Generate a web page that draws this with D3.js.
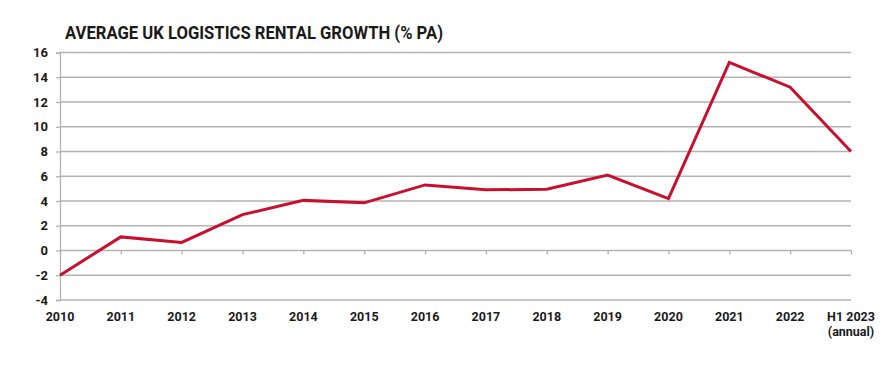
<!DOCTYPE html>
<html>
<head>
<meta charset="utf-8">
<script src="https://cdn.jsdelivr.net/npm/d3@7"></script>
<style>
  body { margin: 0; background: #fff; }
  text { font-family: Roboto, "DejaVu Sans", sans-serif; font-weight: 700; fill: #1a1a1a; }
</style>
</head>
<body>
<div id="chart"></div>
<script>
// chart data
var years = ["2010", "2011", "2012", "2013", "2014", "2015", "2016", "2017",
             "2018", "2019", "2020", "2021", "2022", "H1 2023|(annual)"];
var growth = [-2.0, 1.1, 0.65, 2.9, 4.05, 3.85, 5.3, 4.9, 4.95, 6.1, 4.2, 15.2, 13.2, 8.0];
var yTicks = [-4, -2, 0, 2, 4, 6, 8, 10, 12, 14, 16];

var svgWidth = 881;
var svgHeight = 387;

var margin = { top: 52.5, right: 30, bottom: 87, left: 60 };
var width = svgWidth - margin.left - margin.right;
var height = svgHeight - margin.top - margin.bottom;

var svg = d3.select("#chart")
  .append("svg")
  .attr("width", svgWidth)
  .attr("height", svgHeight);

// title
svg.append("text")
  .attr("x", 65)
  .attr("y", 39)
  .attr("textLength", 378)
  .attr("lengthAdjust", "spacingAndGlyphs")
  .style("font-size", "18px")
  .text("AVERAGE UK LOGISTICS RENTAL GROWTH (% PA)");

var chartGroup = svg.append("g")
  .attr("transform", `translate(${margin.left}, ${margin.top})`);

var xScale = d3.scalePoint()
  .domain(years)
  .range([0, width]);

var yScale = d3.scaleLinear()
  .domain([-4, 16])
  .range([height, 0]);

// gridlines
chartGroup.selectAll(".grid")
  .data(yTicks)
  .enter()
  .append("line")
  .attr("x1", 0)
  .attr("x2", width)
  .attr("y1", d => yScale(d))
  .attr("y2", d => yScale(d))
  .attr("stroke", "#b3b3b3")
  .attr("stroke-width", 1.3);

// y axis
var yAxis = d3.axisLeft(yScale)
  .tickValues(yTicks)
  .tickFormat(d => String(d))
  .tickSize(4)
  .tickPadding(8);
var yG = chartGroup.append("g").call(yAxis);
yG.select(".domain").attr("stroke", "#b3b3b3").attr("stroke-width", 1.3);
yG.selectAll(".tick line").attr("stroke", "#b3b3b3").attr("stroke-width", 1.3);
yG.selectAll(".tick text")
  .style("font-size", "13px")
  .style("font-family", "Roboto, sans-serif")
  .attr("fill", "#1a1a1a");

// x ticks sit on the zero line
var xAxis = d3.axisBottom(xScale).tickSize(4).tickFormat("");
var xG = chartGroup.append("g")
  .attr("transform", `translate(0, ${yScale(0)})`)
  .call(xAxis);
xG.select(".domain").remove();
xG.selectAll(".tick line").attr("stroke", "#b3b3b3").attr("stroke-width", 1.3);

// x labels below the plot
var xLabels = chartGroup.selectAll(".xlabel")
  .data(years)
  .enter()
  .append("text")
  .attr("class", "xlabel")
  .attr("text-anchor", "middle")
  .attr("transform", d => `translate(${xScale(d)}, ${height + 21})`)
  .style("font-size", "12.5px");

xLabels.each(function(d) {
  var parts = d.split("|");
  var t = d3.select(this);
  parts.forEach(function(p, i) {
    t.append("tspan")
      .attr("x", 0)
      .attr("dy", i === 0 ? 0 : 15)
      .text(p);
  });
});

// line
var line = d3.line()
  .x((d, i) => xScale(years[i]))
  .y(d => yScale(d));

chartGroup.append("path")
  .datum(growth)
  .attr("d", line)
  .attr("fill", "none")
  .attr("stroke", "#c8102e")
  .attr("stroke-width", 3)
  .attr("stroke-linejoin", "miter");
</script>
</body>
</html>
